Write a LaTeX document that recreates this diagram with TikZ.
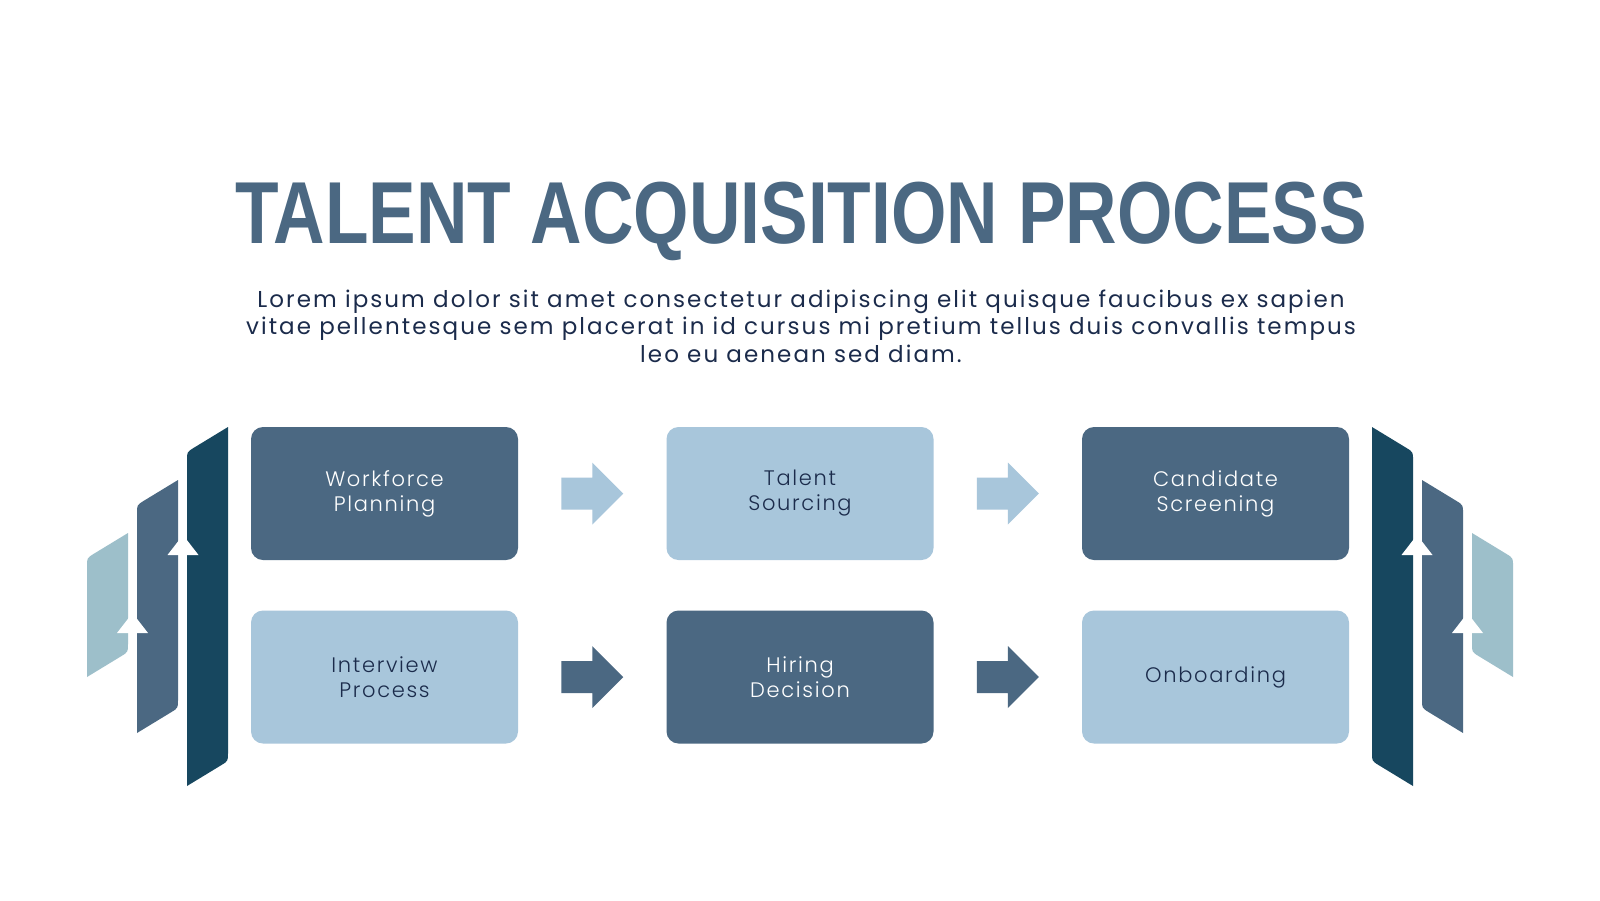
\documentclass[tikz,border=0pt]{standalone}
\usepackage{fontspec}
\setmainfont{Poppins}
\newfontfamily\titlefont{Liberation Sans}
\newfontfamily\boxfont{Poppins Light}[LetterSpace=8]
\newfontfamily\bodyfont{Poppins}[LetterSpace=9]
\usetikzlibrary{positioning,calc}
\definecolor{slate}{HTML}{4B6882}
\definecolor{skyblue}{HTML}{A8C6DB}
\definecolor{deepblue}{HTML}{17475F}
\definecolor{paleteal}{HTML}{9DBFCA}
\definecolor{navy}{HTML}{1B2B4B}
% slanted side panel: x left, y top right, y bottom right, colour
\newcommand\panel[4]{%
  \fill[#4] (#1+41,#2) -- (#1+41,#3-8) .. controls (#1+41,#3) .. (#1+34.2,#3+4.2)
    -- (#1,#3+25) -- (#1,#2+33) .. controls (#1,#2+25) .. (#1+6.8,#2+20.8) -- cycle;}
% block arrow half way between two boxes
\newcommand\blockarrow[3]{%
  \coordinate (m) at ($(#1.east)!0.5!(#2.west)$);
  \fill[#3] ($(m)+(-31,-16)$) -- ($(m)+(0,-16)$) -- ($(m)+(0,-31)$) -- ($(m)+(31,0)$)
    -- ($(m)+(0,31)$) -- ($(m)+(0,16)$) -- ($(m)+(-31,16)$) -- cycle;}
\tikzset{
  box/.style={rectangle, rounded corners=12pt, minimum width=267pt, minimum height=133pt,
    align=center, inner sep=0pt, font=\boxfont\fontsize{21}{25}\selectfont},
  darkbox/.style={box, fill=slate, text=white},
  lightbox/.style={box, fill=skyblue, text=navy}
}
\begin{document}
\begin{tikzpicture}[x=1pt, y=-1pt]
  \useasboundingbox[fill=white] (0,0) rectangle (1600,900);
  \node[anchor=base, text=slate, font=\titlefont\bfseries\fontsize{88}{88}\selectfont] (title) at (801,243)
    {\scalebox{0.81}[1]{TALENT ACQUISITION PROCESS}};
  \node[anchor=base, align=center, inner sep=0pt, text=navy, font=\bodyfont\fontsize{23}{27.5}\selectfont] (intro) at (801,362)
    {Lorem ipsum dolor sit amet consectetur adipiscing elit quisque faucibus ex sapien\\
     vitae pellentesque sem placerat in id cursus mi pretium tellus duis convallis tempus\\
     leo eu aenean sed diam.};
  % process boxes
  \node[darkbox] (wp) at (384.5,493.5) {Workforce\\Planning};
  \node[lightbox] (ts) at (800,493.5) {Talent\\Sourcing};
  \node[darkbox] (cs) at (1215.5,493.5) {Candidate\\Screening};
  \node[lightbox] (ip) at (384.5,677) {Interview\\Process};
  \node[darkbox] (hd) at (800,677) {Hiring\\Decision};
  \node[lightbox] (ob) at (1215.5,677) {Onboarding};
  \foreach \a/\b/\c in {wp/ts/skyblue, ts/cs/skyblue, ip/hd/slate, hd/ob/slate}
    \blockarrow{\a}{\b}{\c};
  % side panels, left then mirrored right
  \foreach \s in {0,1}{
    \begin{scope}[shift={(1600*\s,0)}, xscale=1-2*\s]
      \foreach \x/\t/\b/\c in {87/533/652/paleteal, 137/480/708/slate, 187/427/761/deepblue}
        \panel{\x}{\t}{\b}{\c};
      \fill[white] (183,535) -- (198.5,555) -- (167.5,555) -- cycle;
      \fill[white] (132.5,613) -- (148,633) -- (117,633) -- cycle;
    \end{scope}
  }
\end{tikzpicture}
\end{document}
